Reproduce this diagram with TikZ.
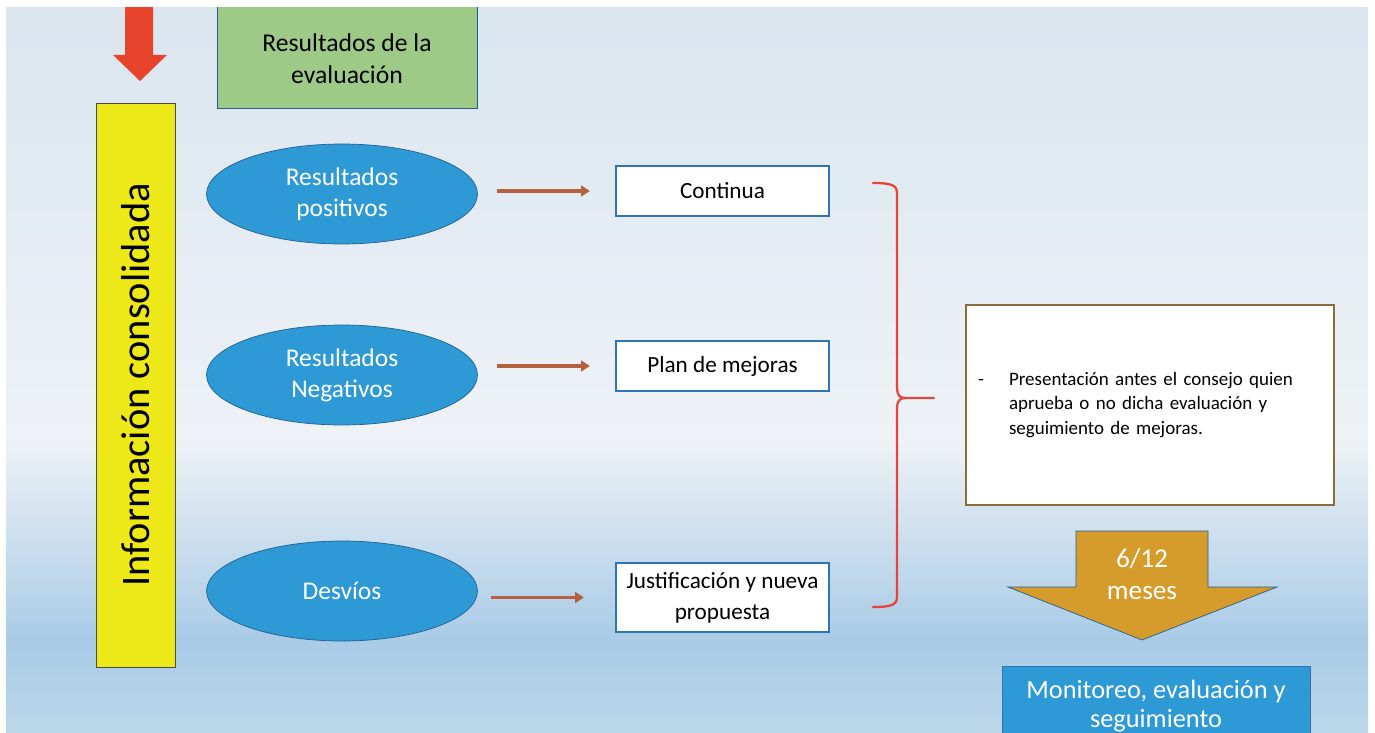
\documentclass[tikz,border=0pt]{standalone}
\usepackage{fontspec}
\setmainfont{Carlito}
\usetikzlibrary{
    arrows.meta,
    positioning,
    shapes.geometric
}
\definecolor{bgtop}{HTML}{DAE5EF}
\definecolor{bgmid}{HTML}{EEF2F6}
\definecolor{bgblue}{HTML}{A9CBE6}
\definecolor{bgbot}{HTML}{BCD8EA}
\definecolor{arrowred}{HTML}{E8432B}
\definecolor{infoyellow}{HTML}{EDE817}
\definecolor{evalgreen}{HTML}{9DCB87}
\definecolor{ovalblue}{HTML}{2E9AD5}
\definecolor{edgeblue}{HTML}{2E75B6}
\definecolor{flowbrown}{HTML}{B5603F}
\definecolor{bracered}{HTML}{E8443A}
\definecolor{framebrown}{HTML}{8A6D3B}
\definecolor{periodgold}{HTML}{D59B2B}

\begin{document}
\begin{tikzpicture}[
        x=0.02cm, y=-0.02cm,
        oval/.style={ellipse, draw=edgeblue!80!black, fill=ovalblue, text=white, minimum width=5.42cm, minimum height=2cm, inner sep=0pt, align=center, font=\fontsize{14.5}{17.5}\selectfont},
        result/.style={draw=edgeblue, line width=1.2pt, fill=white, minimum width=4.26cm, minimum height=1cm, align=center, font=\fontsize{13.2}{17.5}\selectfont},
        flow/.style={draw=flowbrown, line width=1.8pt, -{Triangle[length=5pt,width=6pt]}},
        brace/.style={draw=bracered, line width=1.3pt, line cap=round, line join=round}
    ]
        \useasboundingbox (0,0) rectangle (1375,733);
        \begin{scope}
        \clip (6,8) rectangle (1368,733);

        % Background
        \shade[top color=bgtop, bottom color=bgmid] (0,0) rectangle (1375,440);
        \shade[top color=bgmid, bottom color=bgblue] (0,439.5) rectangle (1375,640);
        \shade[top color=bgblue, bottom color=bgbot] (0,639.5) rectangle (1375,740);

        % Input arrow
        \fill[arrowred] (125,-5) -- (153,-5) -- (153,55) -- (167,55) -- (140,81) -- (113,55) -- (125,55) -- cycle;

        % Results box
        \node[draw=edgeblue!80!black, fill=evalgreen, minimum width=5.2cm, minimum height=2.2cm, align=center, font=\fontsize{14.6}{18.5}\selectfont] (eval) at (347,53) {\\[-2pt]Resultados de la\\evaluación};

        % Consolidated information
        \node[draw=black!70, fill=infoyellow, rotate=90, minimum width=11.28cm, minimum height=1.58cm, font=\fontsize{23}{27}\selectfont] (info) at (135.5,385) {Información consolidada};

        % Results
        \node[oval] (pos) at (342,194) {Resultados\\positivos};
        \node[oval] (neg) at (342,375) {Resultados\\Negativos};
        \node[oval] (dev) at (342,591) {Desvíos};

        % Actions
        \node[result] (cont) at (722.5,191) {Continua};
        \node[result] (plan) at (722.5,366) {Plan de mejoras};
        \node[result, minimum height=1.38cm] (just) at (722.5,597.5) {Justificación y nueva\\propuesta};

        % Arrows
        \draw[flow, shorten <=0.39cm, shorten >=0.5cm] (pos.east |- cont.west) -- (cont.west);
        \draw[flow, shorten <=0.39cm, shorten >=0.5cm] (neg.east |- plan.west) -- (plan.west);
        \draw[flow, shorten <=0.27cm, shorten >=0.62cm] (dev.east |- just.west) -- (just.west);

        % Brace
        \draw[brace] (873,183) .. controls (891,183) and (897,185) .. (897,193) -- (897,388)
            .. controls (897,395) and (900,398) .. (905,398) -- (934,398);
        \draw[brace] (905,398) .. controls (900,398) and (897,401) .. (897,408) -- (897,597)
            .. controls (897,605) and (891,607) .. (873,607);

        % Council
        \node[draw=framebrown, line width=1.6pt, fill=white, minimum width=7.36cm, minimum height=4cm, text width=6.88cm, inner xsep=0.24cm, align=left, font=\fontsize{10.8}{13.9}\selectfont] (council) at (1150,405) {%
            \begin{tabular}{@{}p{0.62cm}@{}l@{}}
            - & Presentación antes el consejo quien\\
              & aprueba o no dicha evaluación y\\
              & seguimiento de mejoras.
            \end{tabular}};

        % Period
        \draw[draw=edgeblue!80!black, fill=periodgold] (1076,531) -- (1208,531) -- (1208,587) -- (1277,587) -- (1142,640) -- (1008,587) -- (1076,587) -- cycle;
        \node[text=white, align=center, font=\fontsize{15.5}{18.5}\selectfont] (period) at (1142,574) {6/12\\meses};

        % Monitoring
        \node[draw=edgeblue, fill=ovalblue, text=white, minimum width=6.16cm, minimum height=1.6cm, align=center, font=\fontsize{15}{16.5}\selectfont] (mon) at (1156,706) {Monitoreo, evaluación y\\seguimiento};
        \end{scope}
    \end{tikzpicture}
\end{document}
